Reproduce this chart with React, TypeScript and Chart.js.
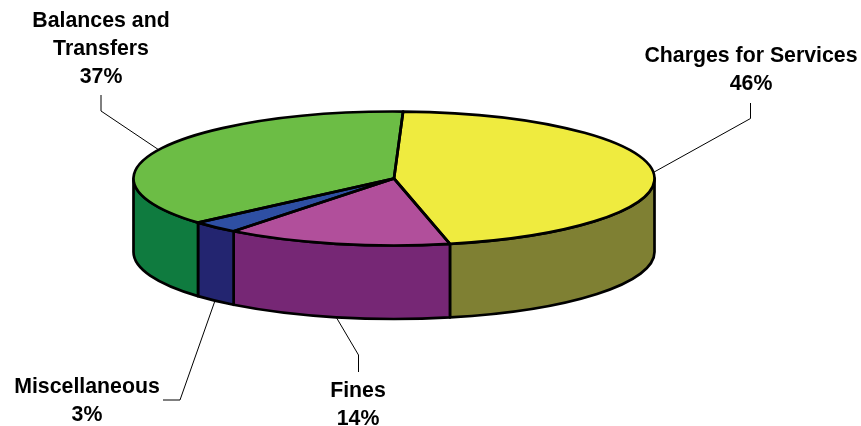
import { useEffect, useRef } from "react";
import { Chart, registerables } from "chart.js";

Chart.register(...registerables);

// Revenue shares, percent of total
const categories = ["Charges for Services", "Fines", "Miscellaneous", "Balances and Transfers"];
const shares = [46, 14, 3, 37];
const topColors = ["#EFEB3F", "#B14F9B", "#2E4FA3", "#6CBD45"];
const sideColors = ["#7F8033", "#762775", "#232570", "#0F7B3F"];

// Wrapped label lines, centre of the text block and leader elbows, per slice
const labelLines = [["Charges for Services"], ["Fines"], ["Miscellaneous"], ["Balances and", "Transfers"]];
const labelLayout = [
  { cx: 751, firstY: 56, elbow: [[750.5, 118.5], [750.5, 103]] },
  { cx: 358, firstY: 391, elbow: [[358.5, 355], [358.5, 372]] },
  { cx: 87, firstY: 387, elbow: [[180, 400], [163, 400]] },
  { cx: 101, firstY: 21, elbow: [[101, 111], [101, 95]] },
];

// Projection of the flat pie onto a tilted disc
const DISC = { cx: 394, cy: 178.5, rx: 260.5, ry: 67, depth: 73.5 };
const ROTATION_DEG = 2;
const LINE_WIDTH = 2.7;
const FONT = 'bold 21.3px "Liberation Sans", Arial, sans-serif';
const LINE_GAP = 28;

const pointOn = (angle: number, drop = 0): [number, number] => [
  DISC.cx + DISC.rx * Math.cos(angle),
  DISC.cy + DISC.ry * Math.sin(angle) + drop,
];

const ellipsePath = (ctx: CanvasRenderingContext2D, a: number, b: number, drop = 0, ccw = false) => {
  ctx.ellipse(DISC.cx, DISC.cy + drop, DISC.rx, DISC.ry, 0, a, b, ccw);
};

// Part of a slice's span that faces the viewer (0..PI in canvas angles)
const frontSpan = (start: number, end: number): [number, number] | null => {
  const turn = Math.PI * 2;
  let a = start;
  let b = end;
  while (a < -1e-9) {
    a += turn;
    b += turn;
  }
  if (a >= Math.PI) {
    a -= turn;
    b -= turn;
  }
  const from = Math.max(a, 0);
  const to = Math.min(b, Math.PI);
  return to > from ? [from, to] : null;
};

const tiltedPie = {
  id: "tiltedPie",
  beforeDatasetsDraw(chart: Chart) {
    const { ctx } = chart;
    const arcs = chart.getDatasetMeta(0).data as any[];
    const first = arcs[0];

    // Side walls
    ctx.save();
    ctx.lineWidth = LINE_WIDTH;
    ctx.strokeStyle = "#000";
    ctx.lineJoin = "round";
    arcs.forEach((arc, i) => {
      const span = frontSpan(arc.startAngle, arc.endAngle);
      if (!span) return;
      ctx.beginPath();
      ellipsePath(ctx, span[0], span[1]);
      ellipsePath(ctx, span[1], span[0], DISC.depth, true);
      ctx.closePath();
      ctx.fillStyle = sideColors[i];
      ctx.fill();
      ctx.stroke();
    });
    ctx.restore();

    // Chart.js fills the slices under this squash; released in afterDatasetsDraw
    ctx.save();
    ctx.translate(DISC.cx, DISC.cy);
    ctx.scale(DISC.rx / first.outerRadius, DISC.ry / first.outerRadius);
    ctx.translate(-first.x, -first.y);
  },
  afterDatasetsDraw(chart: Chart) {
    const { ctx } = chart;
    ctx.restore();
    const arcs = chart.getDatasetMeta(0).data as any[];

    // Slice outlines on the top face
    ctx.save();
    ctx.lineWidth = LINE_WIDTH;
    ctx.strokeStyle = "#000";
    ctx.lineJoin = "round";
    arcs.forEach((arc) => {
      ctx.beginPath();
      ctx.moveTo(DISC.cx, DISC.cy);
      ellipsePath(ctx, arc.startAngle, arc.endAngle);
      ctx.closePath();
      ctx.stroke();
    });
    ctx.restore();

    // Leaders and labels
    ctx.save();
    ctx.lineWidth = 1;
    ctx.strokeStyle = "#000";
    ctx.font = FONT;
    ctx.textAlign = "center";
    ctx.textBaseline = "middle";
    ctx.fillStyle = "#000";
    arcs.forEach((arc, i) => {
      const mid = (arc.startAngle + arc.endAngle) / 2;
      const front = Math.sin(mid) > 0;
      const [sx, sy] = pointOn(mid, front ? DISC.depth : 0);
      const layout = labelLayout[i];
      ctx.beginPath();
      ctx.moveTo(sx, sy);
      layout.elbow.forEach(([x, y]) => ctx.lineTo(x, y));
      ctx.stroke();
      const lines = [...labelLines[i], `${shares[i]}%`];
      lines.forEach((text, n) => ctx.fillText(text, layout.cx, layout.firstY + n * LINE_GAP));
    });
    ctx.restore();
  },
};

export default function App() {
  const ref = useRef<HTMLCanvasElement>(null);

  useEffect(() => {
    document.body.style.margin = "0";
    const chart = new Chart(ref.current!, {
      type: "pie",
      data: {
        labels: categories,
        datasets: [{ data: shares, backgroundColor: topColors, borderWidth: 0 }],
      },
      options: {
        animation: false,
        responsive: false,
        rotation: ROTATION_DEG,
        plugins: { legend: { display: false }, tooltip: { enabled: false }, title: { display: false } },
      },
      plugins: [tiltedPie],
    });
    return () => chart.destroy();
  }, []);

  return <canvas ref={ref} width={861} height={426} style={{ display: "block" }} />;
}
